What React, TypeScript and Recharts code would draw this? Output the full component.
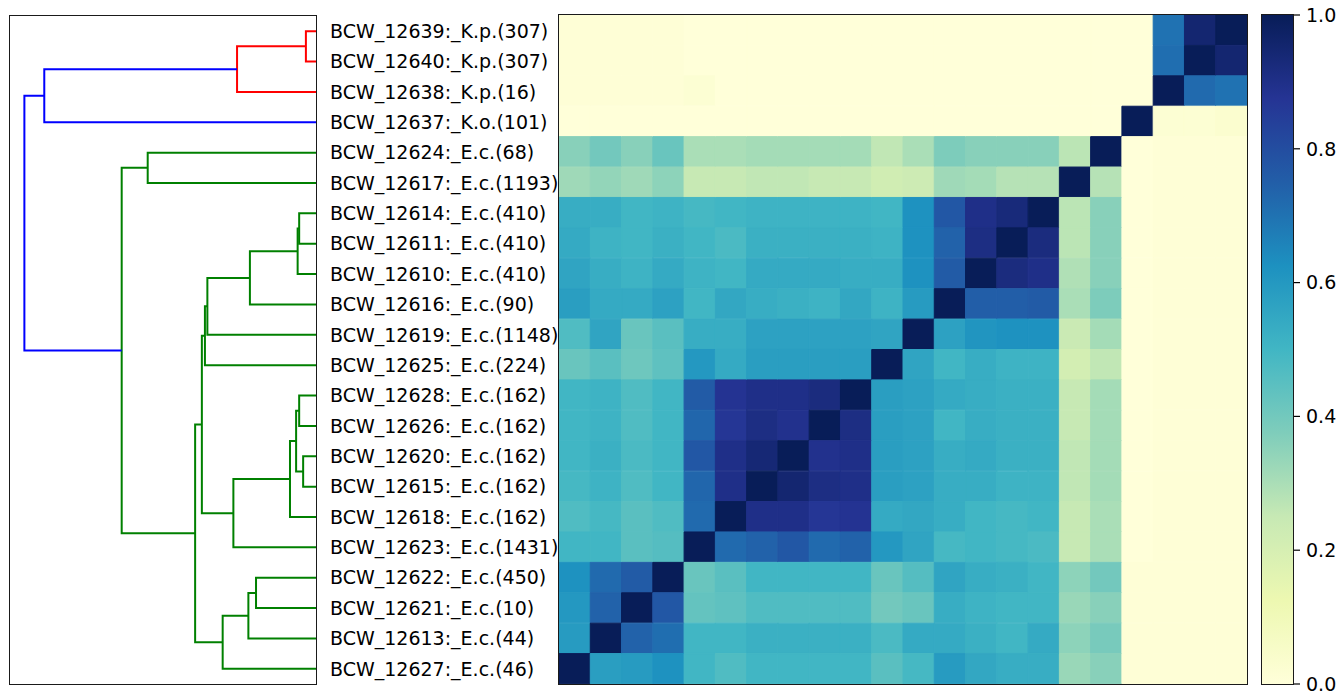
import { ScatterChart, Scatter, XAxis, YAxis, BarChart, Bar, Cell } from "recharts";

const FONT = "DejaVu Sans";

// leaves, top to bottom
const LEAF_LABELS = [
  "BCW_12639:_K.p.(307)",
  "BCW_12640:_K.p.(307)",
  "BCW_12638:_K.p.(16)",
  "BCW_12637:_K.o.(101)",
  "BCW_12624:_E.c.(68)",
  "BCW_12617:_E.c.(1193)",
  "BCW_12614:_E.c.(410)",
  "BCW_12611:_E.c.(410)",
  "BCW_12610:_E.c.(410)",
  "BCW_12616:_E.c.(90)",
  "BCW_12619:_E.c.(1148)",
  "BCW_12625:_E.c.(224)",
  "BCW_12628:_E.c.(162)",
  "BCW_12626:_E.c.(162)",
  "BCW_12620:_E.c.(162)",
  "BCW_12615:_E.c.(162)",
  "BCW_12618:_E.c.(162)",
  "BCW_12623:_E.c.(1431)",
  "BCW_12622:_E.c.(450)",
  "BCW_12621:_E.c.(10)",
  "BCW_12613:_E.c.(44)",
  "BCW_12627:_E.c.(46)",
];

// linkage: node ids 0..21 are leaves, merge k creates node 22 + k
const MERGE_LEFT = [0, 22, 23, 4, 6, 26, 27, 28, 29, 12, 14, 31, 33, 34, 30, 18, 37, 38, 36, 25, 24];
const MERGE_RIGHT = [1, 2, 3, 5, 7, 8, 9, 10, 11, 13, 15, 32, 16, 17, 35, 19, 20, 21, 39, 40, 41];
const MERGE_HEIGHT = [0.033, 0.258, 0.888, 0.55, 0.055, 0.06, 0.216, 0.355, 0.363, 0.055, 0.042, 0.065, 0.085, 0.27, 0.373, 0.196, 0.221, 0.305, 0.395, 0.635, 0.953];
const MERGE_COLOR = ["r", "r", "b", "g", "g", "g", "g", "g", "g", "g", "g", "g", "g", "g", "g", "g", "g", "g", "g", "g", "b"];
const LINK_COLORS: Record<string, string> = { r: "#ff0000", g: "#008000", b: "#0000ff" };

// heatmap rows (leaf order, top to bottom); columns left to right = leaves in reverse order
const SIMILARITY = [
  [0.01, 0.01, 0.01, 0.01, 0, 0, 0, 0, 0, 0, 0, 0, 0, 0, 0, 0, 0, 0, 0, 0.7, 0.95, 1.0],
  [0.01, 0.01, 0.01, 0.01, 0, 0, 0, 0, 0, 0, 0, 0, 0, 0, 0, 0, 0, 0, 0, 0.71, 1.0, 0.95],
  [0.01, 0.01, 0.01, 0.01, 0.02, 0, 0, 0, 0, 0, 0, 0, 0, 0, 0, 0, 0, 0, 0, 1.0, 0.72, 0.7],
  [0, 0, 0, 0, 0, 0, 0, 0, 0, 0, 0, 0, 0, 0, 0, 0, 0, 0, 1.0, 0.02, 0.02, 0.03],
  [0.36, 0.4, 0.36, 0.42, 0.3, 0.3, 0.31, 0.31, 0.31, 0.31, 0.26, 0.3, 0.38, 0.36, 0.36, 0.36, 0.27, 1.0, 0, 0.01, 0.01, 0.01],
  [0.32, 0.34, 0.32, 0.35, 0.25, 0.25, 0.26, 0.26, 0.25, 0.25, 0.22, 0.23, 0.32, 0.31, 0.28, 0.28, 1.0, 0.28, 0, 0.01, 0.01, 0.01],
  [0.53, 0.53, 0.5, 0.51, 0.49, 0.5, 0.51, 0.51, 0.51, 0.51, 0.5, 0.62, 0.77, 0.9, 0.93, 1.0, 0.27, 0.36, 0, 0.01, 0.01, 0.01],
  [0.54, 0.51, 0.5, 0.52, 0.5, 0.48, 0.52, 0.52, 0.52, 0.52, 0.51, 0.62, 0.74, 0.91, 1.0, 0.92, 0.27, 0.36, 0, 0.01, 0.01, 0.01],
  [0.56, 0.53, 0.51, 0.54, 0.51, 0.5, 0.54, 0.54, 0.54, 0.53, 0.53, 0.62, 0.76, 1.0, 0.92, 0.9, 0.29, 0.36, 0, 0.01, 0.01, 0.01],
  [0.58, 0.54, 0.54, 0.57, 0.5, 0.55, 0.53, 0.52, 0.51, 0.55, 0.51, 0.59, 1.0, 0.75, 0.75, 0.76, 0.3, 0.38, 0, 0.01, 0.01, 0.01],
  [0.47, 0.56, 0.42, 0.45, 0.53, 0.53, 0.57, 0.57, 0.57, 0.57, 0.56, 1.0, 0.57, 0.61, 0.62, 0.62, 0.24, 0.31, 0, 0.01, 0.01, 0.01],
  [0.42, 0.45, 0.41, 0.44, 0.6, 0.54, 0.58, 0.58, 0.58, 0.58, 1.0, 0.56, 0.5, 0.53, 0.51, 0.51, 0.21, 0.26, 0, 0.01, 0.01, 0.01],
  [0.5, 0.51, 0.47, 0.5, 0.76, 0.88, 0.9, 0.9, 0.92, 1.0, 0.58, 0.57, 0.54, 0.53, 0.52, 0.52, 0.25, 0.31, 0, 0.01, 0.01, 0.01],
  [0.5, 0.51, 0.47, 0.5, 0.73, 0.87, 0.91, 0.89, 1.0, 0.91, 0.58, 0.57, 0.5, 0.53, 0.52, 0.52, 0.25, 0.31, 0, 0.01, 0.01, 0.01],
  [0.5, 0.52, 0.48, 0.5, 0.77, 0.9, 0.94, 1.0, 0.89, 0.9, 0.58, 0.57, 0.53, 0.54, 0.52, 0.52, 0.26, 0.31, 0, 0.01, 0.01, 0.01],
  [0.49, 0.51, 0.47, 0.5, 0.73, 0.9, 1.0, 0.95, 0.91, 0.9, 0.58, 0.57, 0.53, 0.53, 0.51, 0.51, 0.26, 0.31, 0, 0.01, 0.01, 0.01],
  [0.47, 0.49, 0.45, 0.47, 0.72, 1.0, 0.9, 0.9, 0.87, 0.88, 0.54, 0.55, 0.53, 0.5, 0.49, 0.5, 0.25, 0.3, 0, 0.01, 0.01, 0.01],
  [0.5, 0.5, 0.45, 0.46, 1.0, 0.72, 0.74, 0.77, 0.72, 0.74, 0.6, 0.56, 0.49, 0.5, 0.49, 0.48, 0.25, 0.3, 0, 0.01, 0.01, 0.01],
  [0.62, 0.72, 0.76, 1.0, 0.42, 0.45, 0.5, 0.5, 0.5, 0.5, 0.42, 0.46, 0.56, 0.53, 0.52, 0.5, 0.35, 0.4, 0.01, 0.01, 0.01, 0.01],
  [0.6, 0.74, 1.0, 0.77, 0.43, 0.44, 0.47, 0.47, 0.47, 0.47, 0.4, 0.42, 0.53, 0.51, 0.5, 0.5, 0.33, 0.36, 0.01, 0.01, 0.01, 0.01],
  [0.59, 1.0, 0.74, 0.71, 0.5, 0.5, 0.52, 0.52, 0.52, 0.52, 0.48, 0.54, 0.54, 0.52, 0.5, 0.54, 0.35, 0.39, 0.01, 0.01, 0.01, 0.01],
  [1.0, 0.58, 0.59, 0.62, 0.5, 0.47, 0.5, 0.5, 0.5, 0.5, 0.45, 0.49, 0.59, 0.55, 0.53, 0.53, 0.33, 0.36, 0.01, 0.01, 0.01, 0.01],
];

const COLORBAR_TICKS = [0, 0.2, 0.4, 0.6, 0.8, 1.0];

// matplotlib YlGnBu
const YLGNBU = ["#ffffd9", "#edf8b1", "#c7e9b4", "#7fcdbb", "#41b6c4", "#1d91c0", "#225ea8", "#253494", "#081d58"];

function hexToRgb(h: string) {
  return [1, 3, 5].map((i) => parseInt(h.slice(i, i + 2), 16));
}

function ylgnbu(v: number) {
  const t = Math.max(0, Math.min(1, v)) * (YLGNBU.length - 1);
  const i = Math.min(Math.floor(t), YLGNBU.length - 2);
  const f = t - i;
  const a = hexToRgb(YLGNBU[i]);
  const b = hexToRgb(YLGNBU[i + 1]);
  const c = a.map((x, k) => Math.round(x + (b[k] - x) * f));
  return `rgb(${c[0]},${c[1]},${c[2]})`;
}

// build the U-shaped link polylines from the linkage
const nodePos: number[] = LEAF_LABELS.map((_, i) => i + 0.5);
const nodeH: number[] = LEAF_LABELS.map(() => 0);
const links = MERGE_LEFT.map((a, k) => {
  const b = MERGE_RIGHT[k];
  const h = MERGE_HEIGHT[k];
  const pts = [
    { x: nodeH[a], y: nodePos[a] },
    { x: h, y: nodePos[a] },
    { x: h, y: nodePos[b] },
    { x: nodeH[b], y: nodePos[b] },
  ];
  nodePos.push((nodePos[a] + nodePos[b]) / 2);
  nodeH.push(h);
  return { pts, color: LINK_COLORS[MERGE_COLOR[k]] };
});

const leafTicks = LEAF_LABELS.map((_, i) => i + 0.5);
const heatRows = LEAF_LABELS.map((label, i) => {
  const r: Record<string, string | number> = { label };
  SIMILARITY[i].forEach((_, j) => (r[`c${j}`] = 1));
  return r;
});

const frame = (left: number, top: number, width: number, height: number) => (
  <div
    style={{
      position: "absolute",
      left: left - 0.6,
      top: top - 0.6,
      width,
      height,
      border: "1.2px solid #1a1a1a",
      pointerEvents: "none",
    }}
  />
);

export default function App() {
  return (
    <div style={{ position: "relative", width: 1339, height: 691, background: "#fff", fontFamily: FONT, overflow: "hidden" }}>
      <style>{"body{margin:0}"}</style>

      <div style={{ position: "absolute", left: 0, top: 0 }}>
        <ScatterChart width={559} height={691} margin={{ top: 16, right: 0, bottom: 7, left: 10 }}>
          <XAxis type="number" dataKey="x" domain={[0, 1]} reversed hide />
          <YAxis
            type="number"
            dataKey="y"
            domain={[0, 22]}
            reversed
            orientation="right"
            width={243}
            ticks={leafTicks}
            interval={0}
            tickFormatter={(v: number) => LEAF_LABELS[Math.floor(v)]}
            axisLine={false}
            tickLine={false}
            tickSize={0}
            tickMargin={14}
            tick={{ fill: "#000", fontSize: 19, fontFamily: FONT }}
          />
          {links.map((l, k) => (
            <Scatter
              key={k}
              data={l.pts}
              stroke={l.color}
              fill="none"
              line={{ stroke: l.color, strokeWidth: 2 }}
              shape={() => <g />}
              isAnimationActive={false}
            />
          ))}
        </ScatterChart>
      </div>

      <div style={{ position: "absolute", left: 559, top: 15 }}>
        <BarChart
          width={688}
          height={669}
          data={heatRows}
          layout="vertical"
          margin={{ top: 0, right: 0, bottom: 0, left: 0 }}
          barCategoryGap={0}
          barGap={0}
        >
          <XAxis type="number" domain={[0, 22]} hide />
          <YAxis type="category" dataKey="label" hide />
          {SIMILARITY[0].map((_, j) => (
            <Bar key={j} dataKey={`c${j}`} stackId="hm" isAnimationActive={false}>
              {SIMILARITY.map((row, i) => (
                <Cell key={i} fill={ylgnbu(row[j])} stroke={ylgnbu(row[j])} strokeWidth={1} />
              ))}
            </Bar>
          ))}
        </BarChart>
      </div>

      <div style={{ position: "absolute", left: 1262, top: 5 }}>
        <BarChart
          width={77}
          height={686}
          data={[{ k: "cb", v: 1 }]}
          margin={{ top: 10, right: 0, bottom: 7, left: 0 }}
          barCategoryGap={0}
        >
          <defs>
            <linearGradient id="ylgnbu" x1="0" y1="1" x2="0" y2="0">
              {YLGNBU.map((c, k) => (
                <stop key={k} offset={k / (YLGNBU.length - 1)} stopColor={c} />
              ))}
            </linearGradient>
          </defs>
          <XAxis dataKey="k" hide />
          <YAxis
            type="number"
            domain={[0, 1]}
            orientation="right"
            width={46}
            ticks={COLORBAR_TICKS}
            interval={0}
            tickFormatter={(v: number) => v.toFixed(1)}
            axisLine={false}
            tickLine={{ stroke: "#000", strokeWidth: 1.2 }}
            tickSize={7}
            tickMargin={6}
            tick={{ fill: "#000", fontSize: 19, fontFamily: FONT }}
          />
          <Bar dataKey="v" fill="url(#ylgnbu)" isAnimationActive={false} />
        </BarChart>
      </div>

      {frame(10, 16, 306, 668)}
      {frame(559, 15, 688, 669)}
      {frame(1262, 15, 31, 669)}
    </div>
  );
}
